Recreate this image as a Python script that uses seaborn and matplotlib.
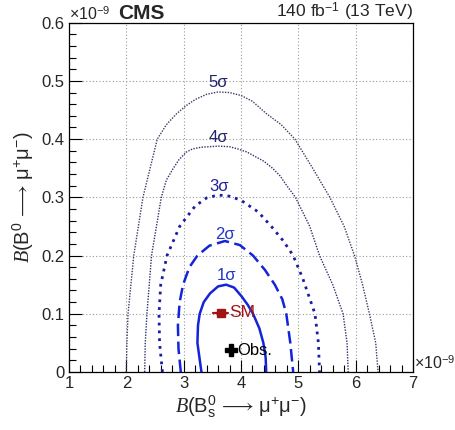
import numpy as np
import pandas as pd
import seaborn as sns
import matplotlib.pyplot as plt
from matplotlib.ticker import MultipleLocator

# contour points (x = B(Bs), y = B(B0), both in 1e-9)
x_1sig = [3.31, 3.24, 3.25, 3.28, 3.35, 3.46, 3.60, 3.74, 3.88, 4.01, 4.12, 4.21, 4.32, 4.39, 4.43, 4.44]
y_1sig = [0.00, 0.05, 0.08, 0.10, 0.12, 0.135, 0.147, 0.150, 0.145, 0.13, 0.115, 0.10, 0.075, 0.05, 0.025, 0.00]

x_2sig = [2.95, 2.91, 2.90, 2.93, 2.99, 3.10, 3.24, 3.45, 3.72, 3.98, 4.21, 4.42, 4.59, 4.72, 4.79, 4.86, 4.91]
y_2sig = [0.00, 0.04, 0.08, 0.12, 0.15, 0.18, 0.20, 0.217, 0.225, 0.218, 0.20, 0.175, 0.15, 0.125, 0.10, 0.05, 0.00]

x_3sig = [2.63, 2.58, 2.57, 2.60, 2.71, 2.93, 3.20, 3.40, 3.60, 3.80, 4.00, 4.30, 4.53, 4.74, 4.91, 5.08, 5.22, 5.29, 5.35, 5.37]
y_3sig = [0.00, 0.05, 0.10, 0.15, 0.20, 0.25, 0.285, 0.299, 0.304, 0.302, 0.295, 0.275, 0.25, 0.225, 0.20, 0.16, 0.12, 0.10, 0.05, 0.00]

x_4sig = [2.32, 2.33, 2.36, 2.44, 2.61, 2.70, 2.82, 2.92, 3.05, 3.15, 3.30, 3.60, 3.80, 3.95, 4.10, 4.25, 4.40,
          4.55, 4.68, 4.80, 4.95, 5.20, 5.37, 5.60, 5.78, 5.85, 5.87]
y_4sig = [0.00, 0.05, 0.10, 0.20, 0.30, 0.33, 0.35, 0.365, 0.378, 0.383, 0.386, 0.388, 0.387, 0.383, 0.378, 0.37, 0.362,
          0.35, 0.337, 0.32, 0.30, 0.25, 0.20, 0.15, 0.10, 0.05, 0.00]

x_5sig = [2.00, 2.01, 2.03, 2.13, 2.29, 2.54, 2.70, 2.88, 3.05, 3.20, 3.40, 3.60, 3.80, 4.00, 4.20, 4.44, 4.70,
          4.94, 5.25, 5.55, 5.80, 5.98, 6.12, 6.24, 6.35, 6.39]
y_5sig = [0.00, 0.05, 0.10, 0.20, 0.30, 0.40, 0.425, 0.444, 0.458, 0.468, 0.477, 0.481, 0.480, 0.475, 0.465, 0.444, 0.425,
          0.40, 0.35, 0.30, 0.25, 0.20, 0.15, 0.10, 0.05, 0.00]

sig_labels = ['1σ', '2σ', '3σ', '4σ', '5σ']
label_x = [3.75, 3.72, 3.62, 3.60, 3.60]
label_y = [0.165, 0.237, 0.318, 0.402, 0.497]

sm_x, sm_xlo, sm_xhi, sm_y = 3.66, 3.51, 3.78, 0.102
obs_x, obs_y = 3.83, 0.037

x_ticks = [1, 2, 3, 4, 5, 6, 7]
y_ticks = [0, 0.1, 0.2, 0.3, 0.4, 0.5, 0.6]
y_ticklabels = ['0', '0.1', '0.2', '0.3', '0.4', '0.5', '0.6']

sns.set_style('white')
plt.rcParams['font.family'] = ['Liberation Sans', 'DejaVu Sans']
plt.rcParams['mathtext.fontset'] = 'custom'
plt.rcParams['mathtext.rm'] = 'Liberation Sans'
plt.rcParams['mathtext.it'] = 'Liberation Serif:italic'

fig = plt.figure(figsize=(4.55, 4.30), dpi=100)
ax = fig.add_axes([0.1516, 0.1349, 0.7561, 0.8123])

contours = [
    (x_1sig, y_1sig, '#1424d8', 1.8, '-'),
    (x_2sig, y_2sig, '#1424d8', 1.8, (0, (5, 2.2))),
    (x_3sig, y_3sig, '#1c1ca0', 2.0, (0, (1, 1.8))),
    (x_4sig, y_4sig, '#30306c', 1.0, (0, (1, 1))),
    (x_5sig, y_5sig, '#3c3c62', 1.0, (0, (1, 1))),
]
for xs, ys, c, lw, ls in contours:
    df = pd.DataFrame({'x': xs, 'y': ys})
    sns.lineplot(data=df, x='x', y='y', sort=False, estimator=None,
                 color=c, lw=lw, linestyle=ls, ax=ax)

label_colors = ['#2236c8', '#2236c8', '#22229a', '#22226e', '#22226e']
for t, lx, ly, c in zip(sig_labels, label_x, label_y, label_colors):
    ax.text(lx, ly, t, color=c, fontsize=12, ha='center', va='center')

# SM point with error bar
ax.plot([sm_xlo, sm_xhi], [sm_y, sm_y], color='#a01414', lw=1.6)
ax.plot(sm_x, sm_y, marker='s', ms=5.5, color='#a01414')
ax.text(sm_xhi + 0.02, sm_y, 'SM', color='#a01414', fontsize=12.5, va='center', ha='left')

# observed point
ax.plot(obs_x, obs_y, marker='P', ms=8.5, color='black')
ax.text(obs_x + 0.1, obs_y, 'Obs.', color='black', fontsize=12, va='center', ha='left')

ax.set_xlim(1, 7)
ax.set_ylim(0, 0.6)
ax.set_xticks(x_ticks)
ax.set_xticklabels([str(v) for v in x_ticks])
ax.set_yticks(y_ticks)
ax.set_yticklabels(y_ticklabels)
ax.xaxis.set_minor_locator(MultipleLocator(0.2))
ax.yaxis.set_minor_locator(MultipleLocator(0.02))
ax.tick_params(which='both', direction='in', top=False, right=False,
               bottom=True, left=True, labelsize=12, color='black')
ax.tick_params(which='major', length=9, width=0.8, pad=3)
ax.tick_params(which='minor', length=5, width=0.8)
ax.set_axisbelow(True)
ax.grid(True, which='major', color='#999999', lw=0.8, linestyle=(0, (1, 2)))
for s in ax.spines.values():
    s.set_color('black')
    s.set_linewidth(0.9)

ax.set_xlabel(r'$B$(B$_{\rm s}^{0}$$\,\longrightarrow\,$μ$^{+}$μ$^{-}$)', fontsize=14.5, labelpad=2)
ax.set_ylabel(r'$B$(B$^{0}$$\,\longrightarrow\,$μ$^{+}$μ$^{-}$)', fontsize=14.5, labelpad=4)

ax.text(0.0, 1.0, r'×10$^{-9}$', transform=ax.transAxes, fontsize=11.5, ha='left', va='bottom')
ax.text(0.143, 1.0, 'CMS', transform=ax.transAxes, fontsize=15, fontweight='bold',
        ha='left', va='bottom')
ax.text(1.0, 1.0, r'140 fb$^{-1}$ (13 TeV)', transform=ax.transAxes, fontsize=12.6,
        ha='right', va='bottom')
ax.text(1.003, 0.0, r'×10$^{-9}$', transform=ax.transAxes, fontsize=11.5, ha='left', va='bottom')

fig.savefig('out.png', dpi=100)
